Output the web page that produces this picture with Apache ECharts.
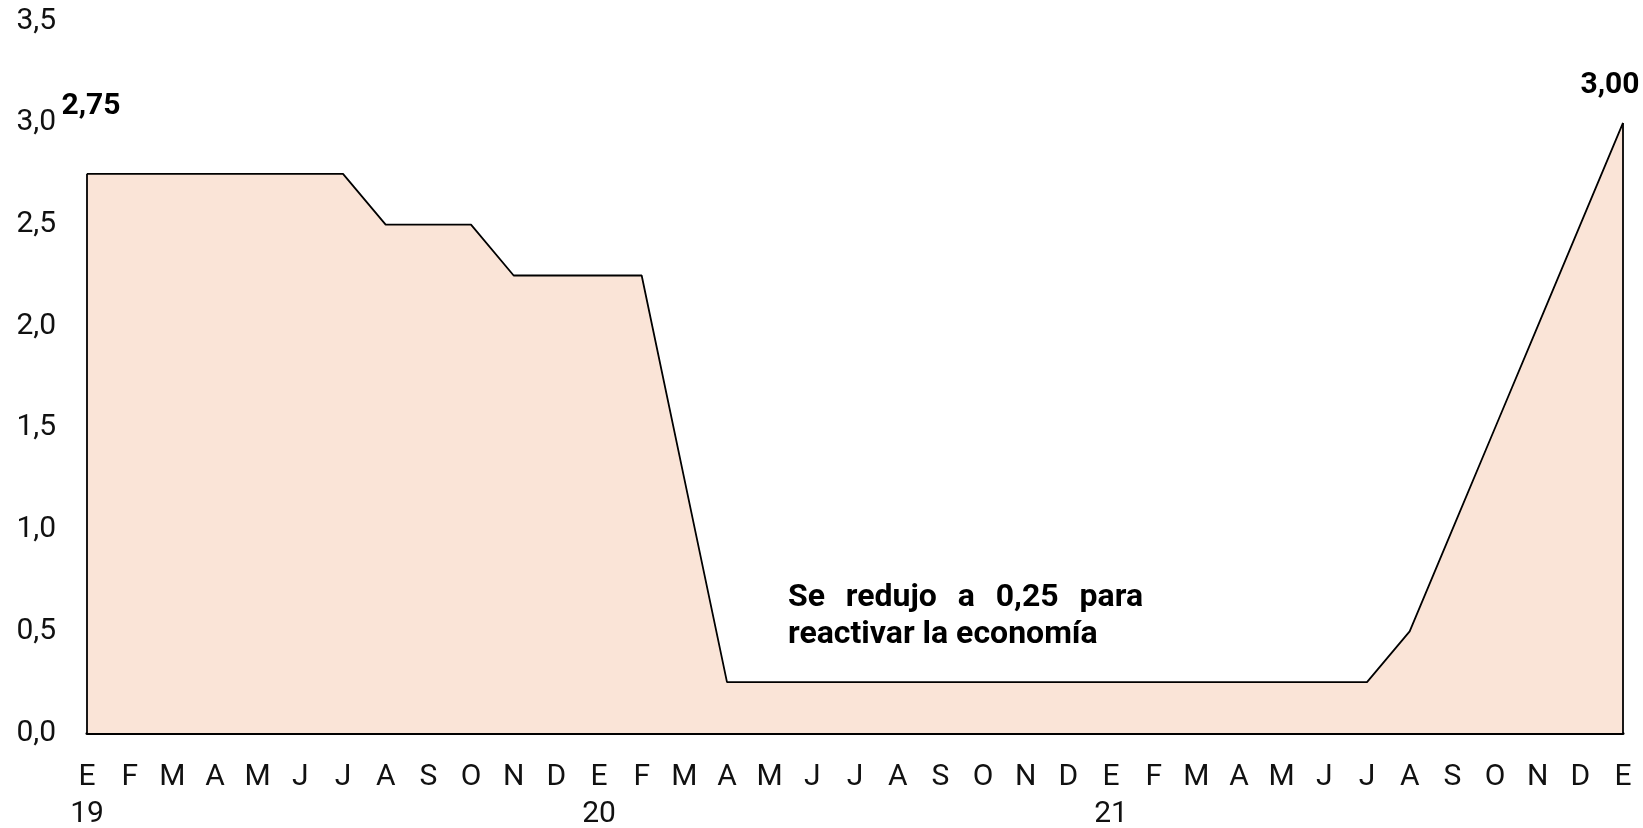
<!DOCTYPE html>
<html>
<head>
<meta charset="utf-8">
<script src="https://cdn.jsdelivr.net/npm/echarts@6/dist/echarts.min.js"></script>
<style>
  html, body { margin: 0; padding: 0; background: #ffffff; }
  #chart { width: 1643px; height: 828px; }
</style>
</head>
<body>
<div id="chart"></div>
<script>
// Tasa de referencia mensual, enero 2019 – enero 2022
const months = ['E','F','M','A','M','J','J','A','S','O','N','D',
                'E','F','M','A','M','J','J','A','S','O','N','D',
                'E','F','M','A','M','J','J','A','S','O','N','D',
                'E'];
const yearLabels = { 0: '19', 12: '20', 24: '21' };
const rate = [2.75, 2.75, 2.75, 2.75, 2.75, 2.75, 2.75, 2.50, 2.50, 2.50, 2.25, 2.25,
              2.25, 2.25, 1.25, 0.25, 0.25, 0.25, 0.25, 0.25, 0.25, 0.25, 0.25, 0.25,
              0.25, 0.25, 0.25, 0.25, 0.25, 0.25, 0.25, 0.50, 1.00, 1.50, 2.00, 2.50,
              3.00];
const yTicks = { min: 0, max: 3.5, interval: 0.5 };
const noteLines = ['Se redujo a 0,25 para', 'reactivar la economía'];

const FONT = 'Roboto, "Noto Sans", sans-serif';
const fmtComma = (v, d) => Number(v).toFixed(d).replace('.', ',');

const categories = months.map((m, i) => i);
const last = rate.length - 1;

// Justified annotation: lay out each word so that the first line fills its width
function buildNote(x, y, width, lineGap, fontSize) {
  const c = document.createElement('canvas').getContext('2d');
  c.font = 'bold ' + fontSize + 'px Roboto';
  const els = [];
  noteLines.forEach((line, li) => {
    const yy = y + li * lineGap;
    if (li < noteLines.length - 1) {
      const words = line.split(' ');
      const total = words.reduce((s, w) => s + c.measureText(w).width, 0);
      const gap = (width - total) / (words.length - 1);
      let xx = x;
      words.forEach(w => {
        els.push({ type: 'text', left: xx, top: yy,
          style: { text: w, font: 'bold ' + fontSize + 'px ' + FONT, fill: '#000' } });
        xx += c.measureText(w).width + gap;
      });
    } else {
      els.push({ type: 'text', left: x, top: yy,
        style: { text: line, font: 'bold ' + fontSize + 'px ' + FONT, fill: '#000' } });
    }
  });
  return els;
}

const chart = echarts.init(document.getElementById('chart'));
chart.setOption({
  animation: false,
  grid: { left: 87, right: 20, top: 21.3, bottom: 95, containLabel: false, outerBoundsMode: 'none' },
  xAxis: {
    type: 'category',
    data: categories,
    boundaryGap: false,
    axisLine: { show: true, lineStyle: { color: '#000', width: 3 } },
    axisTick: { show: false },
    axisLabel: {
      interval: 0,
      margin: 26,
      color: '#111',
      fontFamily: FONT,
      fontSize: 30,
      lineHeight: 37,
      formatter: (v) => {
        const i = Number(v);
        return yearLabels[i] ? months[i] + '\n' + yearLabels[i] : months[i];
      }
    },
    splitLine: { show: false }
  },
  yAxis: {
    type: 'value',
    min: yTicks.min,
    max: yTicks.max,
    interval: yTicks.interval,
    axisLine: { show: false },
    axisTick: { show: false },
    splitLine: { show: false },
    axisLabel: {
      margin: 31,
      color: '#111',
      fontFamily: FONT,
      fontSize: 30,
      formatter: (v) => fmtComma(v, 1)
    }
  },
  series: [{
    type: 'line',
    data: rate,
    symbol: 'none',
    lineStyle: { color: '#000', width: 1.8 },
    areaStyle: { color: '#FAE4D7', opacity: 1 },
    // Value labels at the first and last months
    markPoint: {
      silent: true,
      symbol: 'circle',
      symbolSize: 1,
      itemStyle: { color: 'rgba(0,0,0,0)' },
      label: {
        show: true,
        position: 'top',
        color: '#000',
        fontFamily: FONT,
        fontWeight: 'bold',
        fontSize: 30,
        formatter: (p) => fmtComma(p.value, 2)
      },
      data: [
        { coord: [0, rate[0]], value: rate[0], label: { offset: [4, -47] } },
        { coord: [last, rate[last]], value: rate[last], label: { offset: [-13, -17] } }
      ]
    },
    markLine: {
      silent: true,
      symbol: 'none',
      label: { show: false },
      lineStyle: { color: '#000', width: 1.8, type: 'solid' },
      data: [
        [{ coord: [0, 0] }, { coord: [0, rate[0]] }],
        [{ coord: [last, 0] }, { coord: [last, rate[last]] }]
      ]
    },
    z: 2
  }],
  graphic: buildNote(788, 582, 355, 37, 32)
});
</script>
</body>
</html>
